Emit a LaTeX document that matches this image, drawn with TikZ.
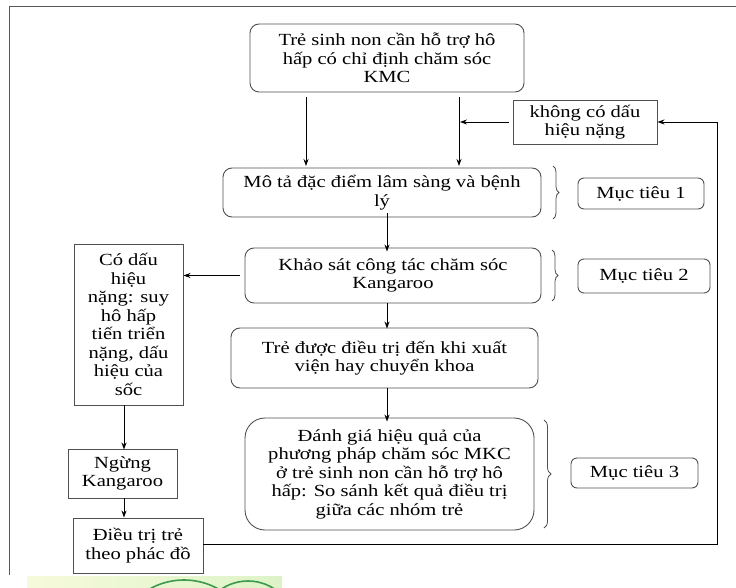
\documentclass[tikz,border=0pt]{standalone}
\usepackage{fontspec}
\setmainfont{Liberation Serif}[FakeStretch=1.21]
\usetikzlibrary{arrows.meta,decorations.pathreplacing}
\definecolor{boxline}{HTML}{505050}
\definecolor{stripA}{HTML}{F6FADC}
\definecolor{stripB}{HTML}{DDF3C6}
\definecolor{arcgreen}{HTML}{3C9A4E}
\begin{document}
\begin{tikzpicture}[x=1pt,y=-1pt,
  every node/.style={font=\fontsize{17}{18.5}\selectfont, align=center, inner sep=0pt},
  rbox/.style={draw=boxline, line width=0.9pt, rounded corners=9pt},
  sbox/.style={draw=boxline, line width=0.9pt},
  goal/.style={draw=boxline, line width=0.9pt, rounded corners=6pt},
  arr/.style={-{Stealth[length=7pt,width=5pt]}, line width=0.9pt, black},
  ln/.style={line width=0.9pt, black},
  br/.style={decorate, decoration={brace, amplitude=6pt}, line width=0.8pt, boxline}]
\useasboundingbox (0,0) rectangle (736,588);
% frame
\draw[line width=0.9pt, gray!70!black] (9,575) -- (9,6) -- (740,6);
% nodes
\node[rbox, minimum width=274pt, minimum height=68pt] (top) at (387,58) {Trẻ sinh non cần hỗ trợ hô\\hấp có chỉ định chăm sóc\\KMC};
\node[sbox, minimum width=144pt, minimum height=44pt] (khong) at (585,122) {không có dấu\\hiệu nặng};
\node[rbox, minimum width=318pt, minimum height=49pt] (mota) at (382,192.5) {Mô tả đặc điểm lâm sàng và bệnh\\lý};
\node[goal, minimum width=126pt, minimum height=31pt] (mt1) at (641,193.5) {Mục tiêu 1};
\node[rbox, minimum width=296pt, minimum height=55pt] (ks) at (393,275.5) {Khảo sát công tác chăm sóc\\Kangaroo};
\node[goal, minimum width=132pt, minimum height=34pt] (mt2) at (644,276) {Mục tiêu 2};
\node[sbox, minimum width=109pt, minimum height=161pt] (co) at (128.5,324.5) {Có dấu\\hiệu\\nặng: suy\\hô hấp\\tiến triển\\nặng, dấu\\hiệu của\\sốc};
\node[rbox, minimum width=307pt, minimum height=60pt] (tre) at (384.5,358) {Trẻ được điều trị đến khi xuất\\viện hay chuyển khoa};
\node[rbox, rounded corners=20pt, minimum width=289pt, minimum height=112pt] (dg) at (389.5,474) {Đánh giá hiệu quả của\\phương pháp chăm sóc MKC\\ở trẻ sinh non cần hỗ trợ hô\\hấp: So sánh kết quả điều trị\\giữa các nhóm trẻ};
\node[goal, minimum width=127pt, minimum height=30pt] (mt3) at (634.5,473) {Mục tiêu 3};
\node[sbox, minimum width=109pt, minimum height=49pt] (ng) at (122.5,473.5) {Ngừng\\Kangaroo};
\node[sbox, minimum width=130pt, minimum height=55pt] (dt) at (138,545.5) {Điều trị trẻ\\theo phác đồ};
% helper coordinates
\coordinate (a1s) at (306,97);
\coordinate (a1e) at (306,166);
\coordinate (a2s) at (459,97);
\coordinate (a2e) at (459,166);
\coordinate (kj) at (460,122);
\coordinate (fb1) at (717,544);
\coordinate (fb2) at (717,122);
% connectors
\draw[arr] (a1s) -- (a1e);
\draw[arr] (a2s) -- (a2e);
\draw[arr] ([xshift=-4pt]khong.west) -- (kj);
\draw[ln] (dt.east |- fb1) -- (fb1) -- (fb2);
\draw[arr] (fb2) -- (khong.east);
\draw[arr] ([yshift=4pt]mota.south -| 387,0) -- ([yshift=-4pt]ks.north -| 387,0);
\draw[arr] ([xshift=-5pt]ks.west) -- (co.east |- ks.west);
\draw[arr] (ks.south -| 387,0) -- ([yshift=-1pt]tre.north -| 387,0);
\draw[arr] (tre.south -| 387,0) -- ([yshift=-4pt]dg.north -| 387,0);
\draw[arr] (co.south -| 124,0) -- ([yshift=-1pt]ng.north -| 124,0);
\draw[arr] (ng.south -| 124,0) -- (dt.north -| 124,0);
% braces
\draw[br] (553,166) -- (553,219);
\draw[br] (552,250) -- (552,301);
\draw[br, decoration={brace, amplitude=7pt}] (544,420) -- (544,528);
% bottom strip
\begin{scope}
\clip (27,576) rectangle (282,588);
\shade[left color=stripA, right color=stripB] (27,576) rectangle (282,588);
\draw[arcgreen, line width=1.6pt] (184,650) circle (70);
\draw[arcgreen, line width=1.6pt] (248,629) circle (48);
\end{scope}
\end{tikzpicture}
\end{document}
